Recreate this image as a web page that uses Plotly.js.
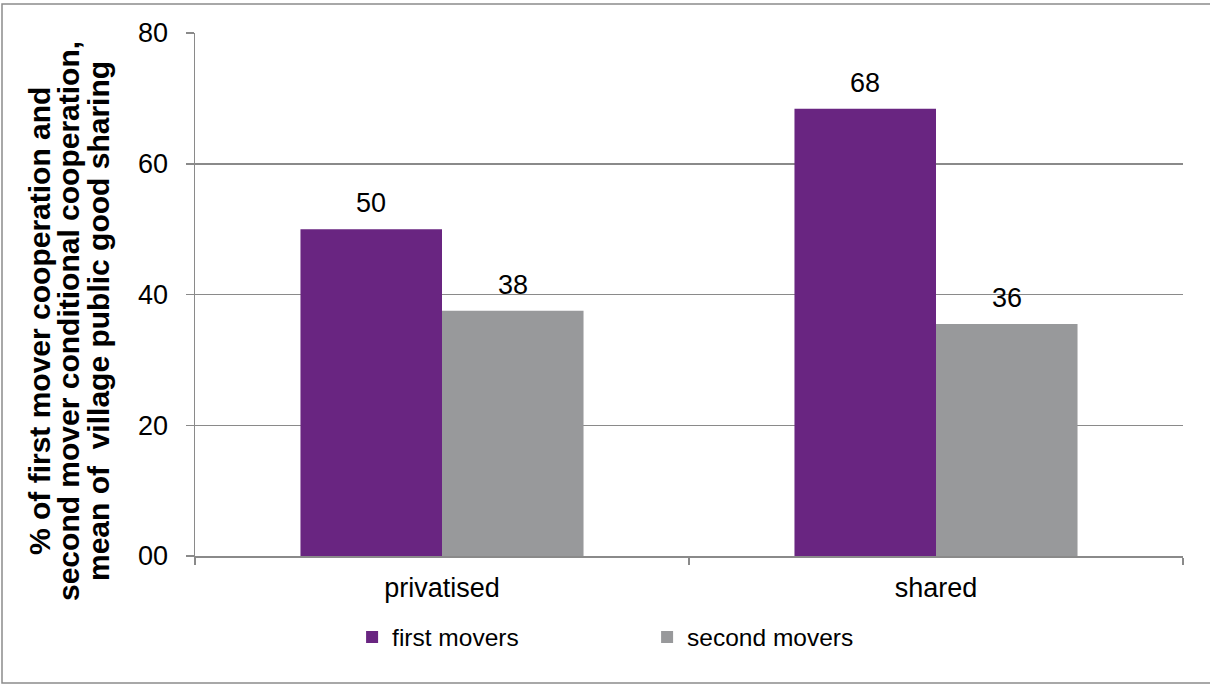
<!DOCTYPE html>
<html>
<head>
<meta charset="utf-8">
<script src="https://cdn.plot.ly/plotly-3.0.1.min.js"></script>
<style>
  html, body { margin: 0; padding: 0; background: #ffffff; }
  #chart { width: 1210px; height: 684px; }
</style>
</head>
<body>
<div id="chart"></div>
<script>
// Village public good regimes
const categories = ['privatised', 'shared'];

// % cooperation, mean across villages
const firstMovers = [50.0, 68.4];
const secondMovers = [37.5, 35.5];

const seriesNames = ['first movers', 'second movers'];

// y axis ticks
const yTickVals = [0, 20, 40, 60, 80];
const yTickText = ['00', '20', '40', '60', '80'];

// Axis title, one entry per line
const yTitleLines = [
  '% of first mover cooperation and',
  'second mover conditional cooperation,',
  'mean of\u00a0 village public good sharing'
];

const PURPLE = '#692581';
const GREY = '#98999b';
const LINE = '#8a8a8a';
const FONT = 'Liberation Sans, Arial, sans-serif';

const W = 1210, H = 684;
const M = { l: 195, r: 27, t: 33, b: 128 };
const plotW = W - M.l - M.r;
const plotH = H - M.t - M.b;
const BARGAP = 0.427;
const halfBar = plotW / categories.length * (1 - BARGAP) / 4;

const fmt = v => Math.round(v).toString();

const traces = [
  { type: 'bar', name: seriesNames[0], x: categories, y: firstMovers,
    marker: { color: PURPLE, line: { width: 0 } }, hoverinfo: 'x+y' },
  { type: 'bar', name: seriesNames[1], x: categories, y: secondMovers,
    marker: { color: GREY, line: { width: 0 } }, hoverinfo: 'x+y' }
];

// value labels above each bar
const annotations = [];
[firstMovers, secondMovers].forEach((vals, s) => {
  vals.forEach((v, i) => {
    annotations.push({
      xref: 'x', yref: 'y', x: categories[i], y: v,
      xshift: (s === 0 ? -1 : 1) * halfBar,
      yshift: 9, yanchor: 'bottom', xanchor: 'center',
      text: fmt(v), showarrow: false,
      font: { family: FONT, size: 27, color: '#000000' }
    });
  });
});

// rotated y-axis title lines
const titleX = [39, 68, 98];
yTitleLines.forEach((t, k) => {
  annotations.push({
    xref: 'paper', yref: 'paper',
    x: (titleX[k] - M.l) / plotW, y: (556 - 321) / plotH,
    xanchor: 'center', yanchor: 'middle',
    text: '<b>' + t + '</b>', textangle: -90, showarrow: false,
    font: { family: FONT, size: 30, color: '#000000' }
  });
});

const layout = {
  width: W, height: H,
  margin: M,
  paper_bgcolor: '#ffffff', plot_bgcolor: '#ffffff',
  barmode: 'group', bargap: BARGAP, bargroupgap: 0,
  font: { family: FONT, color: '#000000' },
  showlegend: true,
  legend: {
    orientation: 'h', x: 0.159, xanchor: 'left', y: (556 - 637) / plotH, yanchor: 'middle',
    font: { family: FONT, size: 24.5, color: '#000000' },
    entrywidth: 250, entrywidthmode: 'pixels', bgcolor: 'rgba(0,0,0,0)'
  },
  xaxis: {
    type: 'category', categoryorder: 'array', categoryarray: categories,
    showline: true, linecolor: LINE, linewidth: 1.5,
    ticks: 'outside', tickson: 'boundaries', ticklen: 7, tickcolor: LINE, tickwidth: 1.5,
    showgrid: false, zeroline: false,
    tickfont: { family: FONT, size: 27, color: '#000000' },
    ticklabelstandoff: 7
  },
  yaxis: {
    range: [0, 80], tickvals: yTickVals, ticktext: yTickText,
    showline: true, linecolor: LINE, linewidth: 1.5,
    ticks: 'outside', ticklen: 8, tickcolor: LINE, tickwidth: 1.5,
    showgrid: true, gridcolor: LINE, gridwidth: 1.5, zeroline: false,
    tickfont: { family: FONT, size: 27, color: '#000000' },
    ticklabelstandoff: 12
  },
  annotations: annotations,
  shapes: [{
    type: 'rect', xref: 'paper', yref: 'paper', layer: 'above',
    x0: (2 - M.l) / plotW, x1: (1220 - M.l) / plotW,
    y0: (556 - 683) / plotH, y1: (556 - 4) / plotH,
    line: { color: '#8c8c8c', width: 1.5 }, fillcolor: 'rgba(0,0,0,0)'
  }]
};

Plotly.newPlot('chart', traces, layout, { displayModeBar: false, staticPlot: true });
</script>
</body>
</html>
